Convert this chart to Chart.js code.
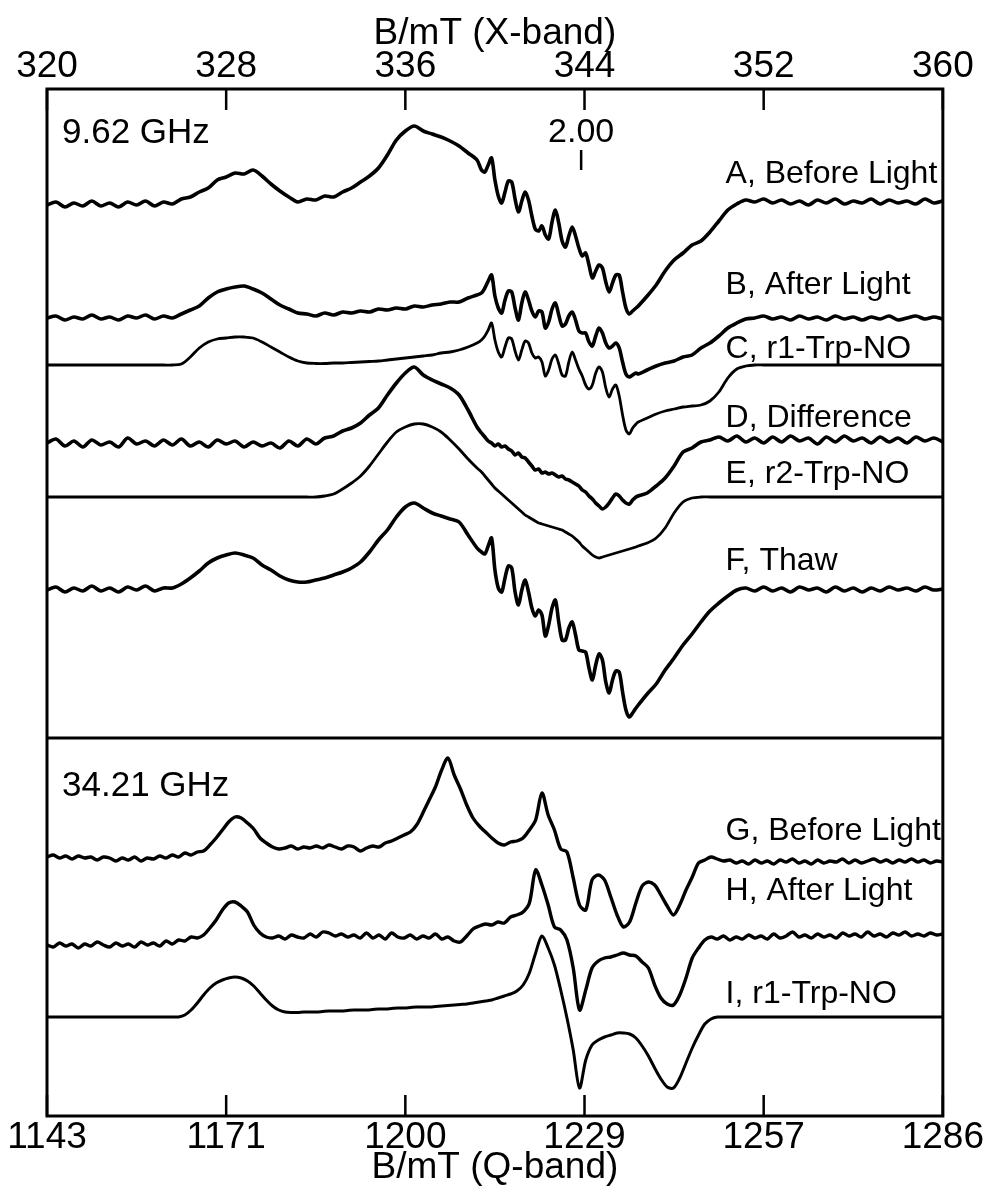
<!DOCTYPE html>
<html>
<head>
<meta charset="utf-8">
<title>EPR spectra, X-band and Q-band</title>
<script src="https://cdn.jsdelivr.net/npm/chart.js@4.4.0/dist/chart.umd.min.js"></script>
<style>
    html, body { margin: 0; padding: 0; background: #ffffff; }
    #wrap { width: 987px; height: 1186px; }
</style>
</head>
<body>
<div id="wrap"><canvas id="eprChart" width="987" height="1186"></canvas></div>
<script>
// ---- X-band (9.62 GHz) field axis, mT ----
const fieldX = [
    320.0, 320.4, 320.8, 321.2, 321.6, 322.0, 322.4, 322.8, 323.2, 323.6,
    324.0, 324.4, 324.8, 325.2, 325.6, 326.0, 326.4, 326.8, 327.2, 327.6,
    328.0, 328.4, 328.8, 329.2, 329.6, 330.0, 330.4, 330.8, 331.2, 331.6,
    332.0, 332.4, 332.8, 333.2, 333.6, 334.0, 334.4, 334.8, 335.2, 335.6,
    336.0, 336.4, 336.8, 337.2, 337.6, 338.0, 338.4, 338.8, 339.2,
    339.40, 339.55, 339.70, 339.85, 340.00, 340.15, 340.30, 340.45, 340.60, 340.75,
    340.90, 341.05, 341.20, 341.35, 341.50, 341.65, 341.80, 341.95, 342.10, 342.25,
    342.40, 342.55, 342.70, 342.85, 343.00, 343.15, 343.30, 343.45, 343.60, 343.75,
    343.90, 344.05, 344.20, 344.35, 344.50, 344.65, 344.80, 344.95, 345.10, 345.25,
    345.40, 345.55, 345.70, 345.85, 346.00, 346.15, 346.30,
    346.4, 346.8, 347.2, 347.6, 348.0, 348.4, 348.8, 349.2, 349.6, 350.0,
    350.4, 350.8, 351.2, 351.6, 352.0, 352.4, 352.8, 353.2, 353.6, 354.0,
    354.4, 354.8, 355.2, 355.6, 356.0, 356.4, 356.8, 357.2, 357.6, 358.0,
    358.4, 358.8, 359.2, 359.6, 360.0
];

// signal heights relative to each trace's own baseline (arbitrary units)
const specA = [
    0, 3, -2, 2, -1, 4, -1, 2, -2, 3, 0, 4, -1, 3, 1, 6, 8, 13, 17, 25,
    28, 32, 31, 35, 29, 21, 14, 8, 3, 6, 5, 9, 8, 13, 17, 23, 29, 37, 50, 65,
    74, 79, 74, 71, 68, 64, 59, 52, 45,
    35, 33, 40, 47, 25, 9, 2, 13, 24, 23, 6, -7, 4, 13, 5, -11, -24, -26, -21, -30,
    -34, -17, -5, -18, -36, -42, -31, -22, -31, -43, -51, -48, -60, -73, -66, -60, -63, -77, -87, -78,
    -70, -70, -87, -103, -109, -106, -103,
    -101, -91, -80, -66, -55, -48, -40, -36, -27, -16, -5, 1, 5, 3, 6, 2, 5, 1, 4, 0,
    5, 2, 6, 1, 4, 2, 6, 1, 5, 2, 4, 1, 6, 2, 4
];
const specB = [
    0, 2, -2, 1, -1, 3, -1, 1, -2, 2, 0, 3, -1, 2, 0, 4, 8, 12, 20, 26,
    29, 31, 32, 29, 25, 19, 13, 9, 5, 4, 2, 5, 3, 6, 5, 7, 6, 9, 8, 10,
    9, 12, 11, 13, 14, 16, 16, 20, 23,
    25, 30, 37, 43, 22, 10, 5, 18, 27, 26, 10, -2, 15, 26, 18, 7, 1, 7, 6, -10,
    -4, 9, 15, 3, -8, -6, 2, 6, -2, -13, -15, -15, -24, -28, -18, -10, -15, -25, -30, -28,
    -25, -30, -44, -56, -59, -57, -55,
    -56, -52, -48, -45, -43, -39, -37, -30, -25, -18, -10, -5, -1, 0, 2, -1, 1, -2, 2, -1,
    1, -2, 2, -1, 1, -2, 1, -1, 2, -2, 0, 2, -1, 1, -1
];
const simC = [
    0, 0, 0, 0, 0, 0, 0, 0, 0, 0, 0, 0, 0, 0, 0, 1, 8, 17, 23, 26,
    27, 28, 28, 27, 23, 18, 13, 8, 4, 2, 1.5, 1.5, 2, 2, 2.5, 3, 3.5, 4, 5, 6,
    7, 8, 9, 10, 12, 13, 15, 18, 22,
    25, 29, 35, 42, 25, 13, 8, 18, 27, 26, 14, 5, 15, 24, 22, 12, 7, 8, 3, -11,
    -5, 6, 10, 1, -10, -11, 3, 13, 5, -4, -11, -20, -24, -20, -8, -2, -7, -23, -32, -24,
    -20, -31, -50, -65, -69, -63, -59,
    -57, -53, -49, -46, -44, -42, -41, -40, -36, -27, -13, -4, -1, 0, 0, 0, 0, 0, 0, 0,
    0, 0, 0, 0, 0, 0, 0, 0, 0, 0, 0, 0, 0, 0, 0
];
const specD = [
    0, 4, -3, 2, -4, 3, -2, 1, -4, 5, -1, 2, -3, 3, -2, 4, -3, 1, -4, 3,
    -1, 2, -4, 1, -3, 0, -5, 2, -3, 4, -1, 5, 7, 12, 15, 20, 28, 35, 48, 60,
    70, 76, 68, 63, 59, 55, 48, 33, 16,
    10, 6, 2, 0, -3, -1, -4, -3, -6, -8, -12, -10, -14, -15, -19, -23, -27, -26, -30, -29,
    -31, -30, -32, -34, -33, -36, -37, -39, -41, -43, -47, -49, -53, -56, -60, -63, -66, -64, -60, -55,
    -51, -53, -57, -60, -61, -57, -54,
    -53, -50, -43, -35, -23, -9, -5, 1, 3, 6, 2, 7, 1, 5, 0, 6, 1, 7, 2, 5,
    -1, 6, 1, 7, 2, 5, 0, 6, 1, 5, 0, 6, 2, 5, 1
];
const simE = [
    0, 0, 0, 0, 0, 0, 0, 0, 0, 0, 0, 0, 0, 0, 0, 0, 0, 0, 0, 0,
    0, 0, 0, 0, 0, 0, 0, 0, 0, 0, 0, 1, 3, 8, 14, 21, 31, 43, 55, 65,
    70, 73, 73, 70, 65, 57, 48, 38, 29,
    25, 21, 17, 13, 9, 6, 3, 0, -3, -6, -9, -12, -15, -18, -20, -22, -24, -26, -27, -28,
    -29, -30, -31, -32, -33, -35, -37, -39, -42, -45, -49, -52, -55, -58, -60, -61, -60, -59, -58, -57,
    -56, -55, -54, -53, -52, -51, -50,
    -49, -46, -41, -31, -16, -5, -1, 0, 0, 0, 0, 0, 0, 0, 0, 0, 0, 0, 0, 0,
    0, 0, 0, 0, 0, 0, 0, 0, 0, 0, 0, 0, 0, 0, 0
];
const specF = [
    0, 3, -2, 2, -1, 4, -1, 2, -2, 3, 0, 4, -1, 2, 2, 6, 12, 19, 27, 32,
    35, 37, 35, 32, 25, 20, 14, 10, 8, 8, 10, 12, 15, 18, 22, 28, 38, 50, 60, 73,
    83, 87, 82, 77, 74, 71, 68, 55, 42,
    38, 36, 44, 52, 20, 2, -2, 12, 24, 22, -2, -15, 0, 10, -2, -18, -26, -20, -25, -46,
    -35, -18, -10, -32, -50, -50, -38, -32, -45, -60, -61, -62, -78, -90, -75, -64, -70, -92, -103, -90,
    -81, -82, -102, -120, -127, -123, -118,
    -115, -104, -94, -80, -68, -55, -44, -32, -21, -13, -6, 0, 2, -1, 3, -1, 2, -2, 3, 0,
    2, -2, 3, -1, 2, -2, 2, -1, 3, 0, 2, -1, 3, 0, 1
];

// ---- Q-band (34.21 GHz) field axis, mT ----
const fieldQ = [
    1143, 1144, 1145, 1146, 1147, 1148, 1149, 1150, 1151, 1152,
    1153, 1154, 1155, 1156, 1157, 1158, 1159, 1160, 1161, 1162,
    1163, 1164, 1165, 1166, 1167, 1168, 1169, 1170, 1171, 1172,
    1173, 1174, 1175, 1176, 1177, 1178, 1179, 1180, 1181, 1182,
    1183, 1184, 1185, 1186, 1187, 1188, 1189, 1190, 1191, 1192,
    1193, 1194, 1195, 1196, 1197, 1198, 1199, 1200, 1201, 1202,
    1203, 1204, 1205, 1206, 1207, 1208, 1209, 1210, 1211, 1212,
    1213, 1214, 1215, 1216, 1217, 1218, 1219, 1220, 1221, 1222,
    1223, 1224, 1225, 1226, 1227, 1228, 1229, 1230, 1231, 1232,
    1233, 1234, 1235, 1236, 1237, 1238, 1239, 1240, 1241, 1242,
    1243, 1244, 1245, 1246, 1247, 1248, 1249, 1250, 1251, 1252,
    1253, 1254, 1255, 1256, 1257, 1258, 1259, 1260, 1261, 1262,
    1263, 1264, 1265, 1266, 1267, 1268, 1269, 1270, 1271, 1272,
    1273, 1274, 1275, 1276, 1277, 1278, 1279, 1280, 1281, 1282,
    1283, 1284, 1285, 1286
];
const specG = [
    0, 2, -1, 1, -2, 1, -1, 0, -3, 0, -1, -4, -1, -3, 0, -4, -1, -2, 1, -1,
    2, 0, 4, 2, 5, 6, 12, 19, 27, 35, 40, 39, 34, 28, 19, 14, 10, 8, 9, 11,
    8, 10, 9, 11, 9, 12, 10, 8, 11, 10, 6, 9, 11, 10, 14, 16, 19, 22, 25, 32,
    44, 57, 70, 87, 99, 82, 68, 52, 39, 31, 25, 19, 14, 12, 15, 16, 19, 27, 37, 64,
    42, 27, 8, 5, -21, -48, -53, -23, -18, -23, -40, -58, -70, -65, -46, -29, -25, -28, -38, -49,
    -58, -48, -33, -20, -6, -3, 0, -2, -4, -3, -6, -4, -7, -3, -6, -4, -7, -3, -5, -2,
    -6, -4, -7, -3, -6, -4, -5, -2, -6, -3, -6, -4, -2, -5, -3, -6, -3, -5, -2, -5,
    -3, -6, -4, -5
];
const specH = [
    0, -2, 2, -1, 1, -3, 1, -1, 3, 0, -2, 2, -1, 1, -2, 3, 0, 2, -1, 4,
    1, 5, 4, 8, 7, 10, 17, 25, 35, 42, 43, 39, 33, 20, 12, 8, 7, 9, 6, 10,
    8, 7, 11, 8, 13, 12, 9, 11, 8, 10, 7, 12, 7, 10, 6, 12, 8, 7, 10, 6,
    9, 7, 11, 6, 8, 4, 3, 9, 16, 19, 21, 20, 23, 22, 28, 30, 33, 42, 75, 60,
    40, 18, 15, 5, -23, -65, -45, -23, -16, -13, -12, -10, -8, -10, -11, -17, -23, -40, -53, -59,
    -60, -50, -33, -13, -3, 5, 8, 6, 9, 5, 8, 6, 10, 7, 9, 6, 11, 7, 9, 13,
    8, 10, 7, 11, 8, 10, 7, 12, 9, 11, 8, 13, 9, 11, 8, 12, 10, 13, 9, 11,
    9, 12, 10, 11
];
const simI = [
    0, 0, 0, 0, 0, 0, 0, 0, 0, 0, 0, 0, 0, 0, 0, 0, 0, 0, 0, 0,
    0, 0, 2, 7, 14, 22, 29, 34, 37, 39, 40, 39, 36, 31, 24, 17, 11, 7, 5, 4.5,
    4.5, 5, 5, 5, 5.5, 6, 6, 6, 6.5, 7, 7, 7, 7.5, 8, 8, 8.5, 9, 9, 9.5, 10,
    10, 10, 10.5, 11, 11.5, 12, 12.5, 13, 14, 15, 16, 17, 19, 21, 23, 26, 32, 44, 64, 81,
    69, 52, 27, -1, -33, -71, -43, -28, -23, -20, -18, -16, -16, -17, -21, -29, -39, -51, -62, -70,
    -71, -61, -46, -31, -18, -7, -2, 0, 0, 0, 0, 0, 0, 0, 0, 0, 0, 0, 0, 0,
    0, 0, 0, 0, 0, 0, 0, 0, 0, 0, 0, 0, 0, 0, 0, 0, 0, 0, 0, 0,
    0, 0, 0, 0
];

// ---- axes ----
const xTickValues = [320, 328, 336, 344, 352, 360];
const qTickValues = [1143, 1171.6, 1200.2, 1228.8, 1257.4, 1286];
const qTickLabels = ['1143', '1171', '1200', '1229', '1257', '1286'];
const gMarkerField = 343.85;   // g = 2.00 at 9.62 GHz

// vertical stacking of the traces (y units, bottom of frame = 0)
const stackOffsets = { A: 911, B: 798, C: 751, D: 673, E: 619, F: 526, G: 259, H: 171, I: 99 };
const panelDivider = 378;

const traceLabels = [
    { text: 'A, Before Light', x: 350.3, y: 933 },
    { text: 'B, After Light', x: 350.3, y: 822 },
    { text: 'C, r1-Trp-NO', x: 350.3, y: 758 },
    { text: 'D, Difference', x: 350.3, y: 689 },
    { text: 'E, r2-Trp-NO', x: 350.3, y: 633 },
    { text: 'F, Thaw', x: 350.3, y: 546 },
    { text: 'G, Before Light', x: 350.3, y: 276 },
    { text: 'H, After Light', x: 350.3, y: 216 },
    { text: 'I, r1-Trp-NO', x: 350.3, y: 113 }
];

Chart.defaults.font.family = '"Liberation Sans", Arial, Helvetica, sans-serif';
Chart.defaults.color = '#000000';

function buildTrace(fields, values, offset, axisId, width) {
    return {
        data: fields.map((f, i) => ({ x: f, y: offset + values[i] })),
        xAxisID: axisId,
        yAxisID: 'y',
        borderColor: '#000000',
        borderWidth: width,
        borderJoinStyle: 'round',
        pointRadius: 0,
        fill: false,
        tension: 0.3
    };
}

const datasets = [
    buildTrace(fieldX, specA, stackOffsets.A, 'x', 3.6),
    buildTrace(fieldX, specB, stackOffsets.B, 'x', 3.6),
    buildTrace(fieldX, simC, stackOffsets.C, 'x', 2.8),
    buildTrace(fieldX, specD, stackOffsets.D, 'x', 3.6),
    buildTrace(fieldX, simE, stackOffsets.E, 'x', 2.8),
    buildTrace(fieldX, specF, stackOffsets.F, 'x', 3.6),
    buildTrace(fieldQ, specG, stackOffsets.G, 'xq', 3.4),
    buildTrace(fieldQ, specH, stackOffsets.H, 'xq', 3.4),
    buildTrace(fieldQ, simI, stackOffsets.I, 'xq', 3)
];

const axisFont = { size: 37, lineHeight: 1 };

const framePlugin = {
    id: 'frame',
    afterDatasetsDraw(chart) {
        const { ctx, chartArea, scales } = chart;
        const { left, right, top, bottom } = chartArea;
        ctx.save();
        ctx.strokeStyle = '#000000';
        ctx.lineWidth = 3;
        ctx.strokeRect(left, top, right - left, bottom - top);

        const yDiv = scales.y.getPixelForValue(panelDivider);
        ctx.beginPath();
        ctx.moveTo(left, yDiv);
        ctx.lineTo(right, yDiv);
        ctx.stroke();

        // inward tick marks
        ctx.lineWidth = 2.5;
        ctx.beginPath();
        xTickValues.forEach(v => {
            const px = scales.x.getPixelForValue(v);
            ctx.moveTo(px, top);
            ctx.lineTo(px, top + 21);
        });
        qTickValues.forEach(v => {
            const px = scales.xq.getPixelForValue(v);
            ctx.moveTo(px, bottom);
            ctx.lineTo(px, bottom - 21);
        });
        // g = 2.00 marker
        const gx = scales.x.getPixelForValue(gMarkerField);
        ctx.moveTo(gx, scales.y.getPixelForValue(966));
        ctx.lineTo(gx, scales.y.getPixelForValue(946));
        ctx.stroke();

        ctx.fillStyle = '#000000';
        ctx.textBaseline = 'alphabetic';
        ctx.font = '32px "Liberation Sans", Arial, sans-serif';
        ctx.textAlign = 'left';
        traceLabels.forEach(l => {
            ctx.fillText(l.text, scales.x.getPixelForValue(l.x), scales.y.getPixelForValue(l.y));
        });

        ctx.font = '35px "Liberation Sans", Arial, sans-serif';
        ctx.fillText('9.62 GHz', scales.x.getPixelForValue(320.67), scales.y.getPixelForValue(973));
        ctx.fillText('34.21 GHz', scales.x.getPixelForValue(320.67), scales.y.getPixelForValue(320));
        ctx.textAlign = 'center';
        ctx.font = '34px "Liberation Sans", Arial, sans-serif';
        ctx.fillText('2.00', gx, scales.y.getPixelForValue(974));
        ctx.restore();
    }
};

new Chart(document.getElementById('eprChart').getContext('2d'), {
    type: 'line',
    data: { datasets: datasets },
    options: {
        responsive: false,
        animation: false,
        devicePixelRatio: 1,
        layout: { padding: { left: 47, right: 41, top: 0, bottom: 0 } },
        plugins: {
            legend: { display: false },
            tooltip: { enabled: false }
        },
        scales: {
            x: {
                type: 'linear',
                position: 'top',
                min: 320,
                max: 360,
                afterBuildTicks: s => { s.ticks = xTickValues.map(v => ({ value: v })); },
                afterFit: s => { s.height = 89; },
                grid: { display: false, drawTicks: false },
                border: { display: false },
                ticks: {
                    font: axisFont,
                    padding: 4,
                    maxRotation: 0,
                    autoSkip: false,
                    callback: v => String(v)
                },
                title: {
                    display: true,
                    text: 'B/mT (X-band)',
                    font: axisFont,
                    padding: { top: 15, bottom: 0 }
                }
            },
            xq: {
                type: 'linear',
                position: 'bottom',
                min: 1143,
                max: 1286,
                afterBuildTicks: s => { s.ticks = qTickValues.map(v => ({ value: v })); },
                afterFit: s => { s.height = 70; },
                grid: { display: false, drawTicks: false },
                border: { display: false },
                ticks: {
                    font: axisFont,
                    padding: 3,
                    maxRotation: 0,
                    autoSkip: false,
                    callback: (v, i) => qTickLabels[i]
                },
                title: {
                    display: true,
                    text: 'B/mT (Q-band)',
                    font: axisFont,
                    padding: { top: 0, bottom: 0 }
                }
            },
            y: {
                display: false,
                min: 0,
                max: 1027
            }
        }
    },
    plugins: [framePlugin]
});
</script>
</body>
</html>
